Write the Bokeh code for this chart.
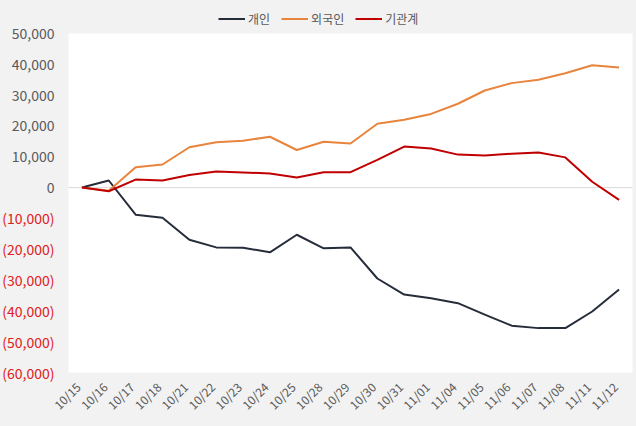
import math
from bokeh.plotting import figure
from bokeh.models import (Range1d, Legend, LegendItem, BoxAnnotation, ColumnDataSource)
from bokeh.embed import file_html
from bokeh.resources import INLINE

dates = ["10/15", "10/16", "10/17", "10/18", "10/21", "10/22", "10/23", "10/24",
         "10/25", "10/28", "10/29", "10/30", "10/31", "11/01", "11/04", "11/05",
         "11/06", "11/07", "11/08", "11/11", "11/12"]
individual = [0, 2300, -8800, -9800, -16900, -19400, -19500, -21000, -15300, -19700,
              -19400, -29500, -34700, -35900, -37500, -41200, -44800, -45600, -45600,
              -40200, -33100]
foreign = [0, -1000, 6600, 7500, 13100, 14700, 15200, 16500, 12200, 14900, 14300,
           20700, 22000, 23900, 27200, 31500, 33900, 35000, 37100, 39700, 39000]
institution = [0, -1200, 2600, 2300, 4100, 5200, 4900, 4600, 3300, 5000, 5000, 9000,
               13300, 12700, 10700, 10400, 11000, 11400, 9800, 1900, -4000]
series_names = ["개인", "외국인", "기관계"]
y_ticks = [-60000, -50000, -40000, -30000, -20000, -10000, 0,
           10000, 20000, 30000, 40000, 50000]

colors = ["#262D3A", "#E8843C", "#C00000"]
FONT = "Noto Sans CJK KR"

# layout (pixels) of the plotting area inside the 636x426 canvas
W, H = 636, 426
PL, PR, PT, PB = 68, 632, 33, 372

n = len(dates)
xs = list(range(n))
x_lo, x_hi = -0.5, n - 0.5
y_lo, y_hi = y_ticks[0], y_ticks[-1]
kx = (PR - PL) / (x_hi - x_lo)
ky = (PB - PT) / (y_hi - y_lo)

p = figure(width=W, height=H, output_backend="svg", toolbar_location=None,
           x_axis_location=None, y_axis_location=None, min_border=0,
           x_range=Range1d(x_lo - PL / kx, x_hi + (W - PR) / kx),
           y_range=Range1d(y_lo - (H - PB) / ky, y_hi + PT / ky))
p.background_fill_color = "#F2F2F2"
p.border_fill_color = "#F2F2F2"
p.outline_line_color = None
p.xgrid.grid_line_color = None
p.ygrid.grid_line_color = None

# white plotting area
p.add_layout(BoxAnnotation(left=x_lo, right=x_hi, bottom=y_lo, top=y_hi,
                           fill_color="white", fill_alpha=1, line_color=None,
                           level="underlay"))
# zero line
p.segment(x0=[x_lo], x1=[x_hi], y0=[0], y1=[0], line_color="#D9D9D9", line_width=1)

renderers = []
for vals, c in zip([individual, foreign, institution], colors):
    r = p.line(xs, vals, line_color=c, line_width=2)
    renderers.append(r)

# y tick labels
ysrc = ColumnDataSource(dict(
    x=[x_lo] * len(y_ticks), y=y_ticks,
    text=["({:,})".format(-t) if t < 0 else "{:,}".format(t) for t in y_ticks],
    color=["#E02020" if t < 0 else "#595959" for t in y_ticks]))
p.text(x="x", y="y", text="text", text_color="color", source=ysrc,
       x_offset=-14, text_align="right", text_baseline="middle",
       text_font={"value": FONT}, text_font_size="14px")

# x tick labels (rotated)
xsrc = ColumnDataSource(dict(x=xs, y=[y_lo] * n, text=dates))
p.text(x="x", y="y", text="text", source=xsrc, angle=math.pi / 4,
       x_offset=-4, y_offset=12, text_align="right", text_baseline="middle",
       text_color="#595959", text_font={"value": FONT}, text_font_size="12px")

legend = Legend(items=[LegendItem(label=nm, renderers=[r]) for nm, r in zip(series_names, renderers)],
                orientation="horizontal", location=(218, H - 27),
                glyph_width=27, glyph_height=17, label_standoff=3, spacing=11,
                padding=0, margin=0, border_line_color=None,
                background_fill_alpha=0, label_text_font=FONT,
                label_text_font_size="12px", label_text_color="#595959")
p.add_layout(legend, "center")

html = file_html(p, INLINE)
html = html.replace("<head>",
                    "<head><style>html,body{margin:0;padding:0;background:#F2F2F2;}</style>", 1)
open("out.html", "w").write(html)
